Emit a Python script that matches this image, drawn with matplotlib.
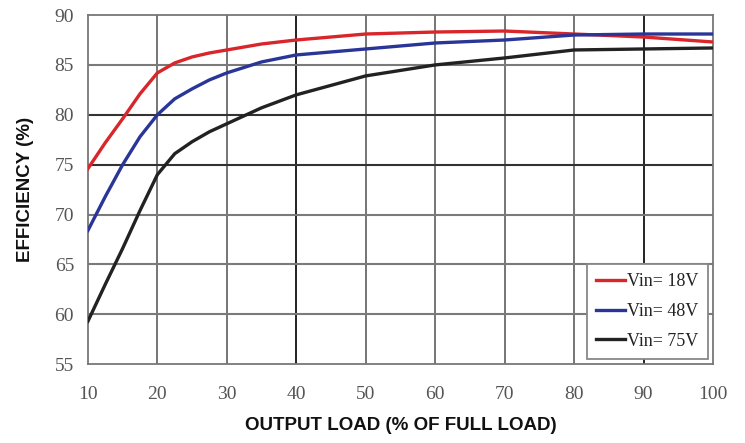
import numpy as np
import matplotlib.pyplot as plt

# data
load = [10, 12.5, 15, 17.5, 20, 22.5, 25, 27.5, 30, 35, 40, 50, 60, 70, 80, 90, 100]
eff_18v = [74.6, 77.2, 79.6, 82.1, 84.2, 85.2, 85.8, 86.2, 86.5, 87.1, 87.5, 88.1, 88.3, 88.4, 88.1, 87.8, 87.3]
eff_48v = [68.4, 71.8, 75.0, 77.8, 80.0, 81.6, 82.6, 83.5, 84.2, 85.3, 86.0, 86.6, 87.2, 87.5, 88.0, 88.1, 88.1]
eff_75v = [59.3, 63.0, 66.6, 70.4, 74.0, 76.1, 77.3, 78.3, 79.1, 80.7, 82.0, 83.9, 85.0, 85.7, 86.5, 86.6, 86.7]
labels = ["Vin= 18V", "Vin= 48V", "Vin= 75V"]
colors = ["#d8262b", "#2a3598", "#222222"]

x_ticks = list(range(10, 101, 10))
y_ticks = list(range(55, 91, 5))

fig = plt.figure(figsize=(7.45, 4.43), dpi=100)
ax = fig.add_axes([0.118, 0.178, 0.839, 0.788])

# grid, some lines printed darker than others in the original
for x in x_ticks[1:-1]:
    c = "#111111" if x in (40, 90) else "#6a6a6a"
    ax.axvline(x, color=c, lw=1.3, zorder=1)
for y in y_ticks[1:-1]:
    c = "#333333" if y in (75, 80) else "#7a7a7a"
    ax.axhline(y, color=c, lw=1.5, zorder=1)

for ys, lab, c in zip([eff_18v, eff_48v, eff_75v], labels, colors):
    ax.plot(load, ys, color=c, lw=2.4, label=lab, zorder=3,
            solid_joinstyle="round")

ax.set_xlim(10, 100)
ax.set_ylim(55, 90)
ax.set_xticks(x_ticks)
ax.set_yticks(y_ticks)
ax.tick_params(length=0, labelsize=14, labelcolor="#555555")
ax.tick_params(axis="x", pad=16)
ax.tick_params(axis="y", pad=10)
for t in ax.get_xticklabels() + ax.get_yticklabels():
    t.set_family("Liberation Serif")
for s in ax.spines.values():
    s.set_color("#777777")
    s.set_linewidth(1.3)

ax.set_xlabel("OUTPUT LOAD (% OF FULL LOAD)", fontsize=13.5, fontweight="bold",
              family="Liberation Sans", color="#111111", labelpad=10)
ax.set_ylabel("EFFICIENCY (%)", fontsize=13.5, fontweight="bold",
              family="Liberation Sans", color="#111111", labelpad=15)

leg = ax.legend(loc="lower right", prop={"family": "Liberation Serif", "size": 13},
                handlelength=1.6, handletextpad=0.1, labelspacing=0.7,
                fancybox=False, framealpha=1, edgecolor="#888888",
                borderaxespad=0.3, borderpad=0.5)
leg.get_frame().set_linewidth(1.3)
for t in leg.get_texts():
    t.set_color("#222222")

fig.savefig("out.png", dpi=100)
